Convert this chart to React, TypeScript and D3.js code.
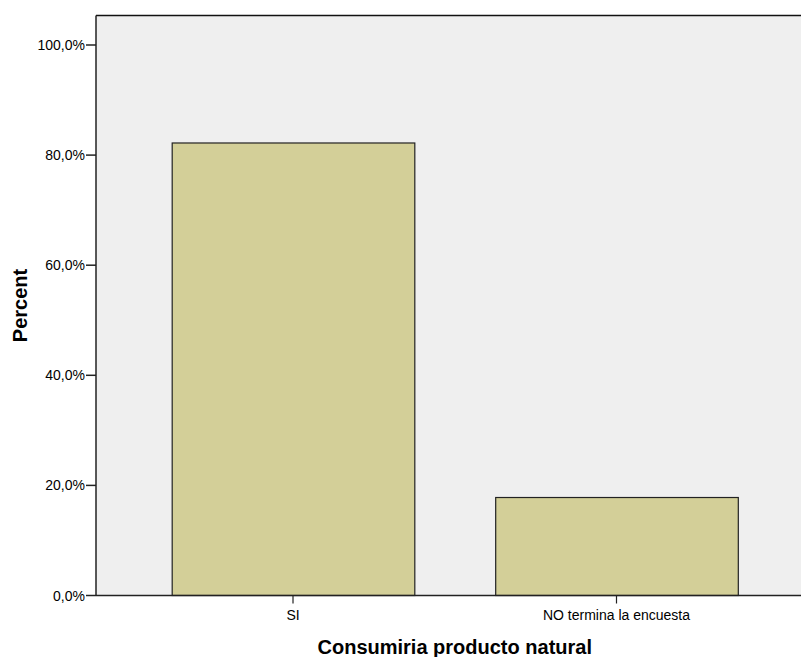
import React from "react";
import * as d3 from "d3";

const categories = ["SI", "NO termina la encuesta"];
const percents = [82.2, 17.8];
const yTicks = [0, 20, 40, 60, 80, 100];
const yTickLabels = ["0,0%", "20,0%", "40,0%", "60,0%", "80,0%", "100,0%"];

export default function App() {
  const W = 801, H = 657;
  const left = 96, top = 15.5, bottom = 595.5, right = 813.5;
  const x = d3.scaleBand<string>().domain(categories).range([left, right]).paddingInner(0.25).paddingOuter(0.234);
  const y = d3.scaleLinear().domain([0, 100]).range([bottom, 45]);
  const font = "'Liberation Sans', Arial, sans-serif";
  return (
    <div style={{ position: "absolute", left: 0, top: 0 }}>
      <svg width={W} height={H} style={{ display: "block" }}>
        <rect x={0} y={0} width={W} height={H} fill="#fff" />
        <rect x={left} y={top} width={right - left} height={bottom - top} fill="#efefef" />
        {categories.map((c, i) => (
          <rect key={c} x={x(c)! + 0.5} y={y(percents[i])} width={x.bandwidth()} height={bottom - y(percents[i])}
            fill="#d3cf98" stroke="#222" strokeWidth={1.2} />
        ))}
        <line x1={left} y1={top} x2={right} y2={top} stroke="#111" strokeWidth={1.5} />
        <line x1={left} y1={top} x2={left} y2={bottom} stroke="#222" strokeWidth={1.5} />
        <line x1={left} y1={bottom} x2={right} y2={bottom} stroke="#222" strokeWidth={1.5} />
        {yTicks.map((t, i) => (
          <g key={t}>
            <line x1={86} x2={left} y1={y(t)} y2={y(t)} stroke="#222" strokeWidth={1.5} />
            <text x={85} y={y(t)} dy="0.36em" textAnchor="end" fontFamily={font} fontSize={14} fill="#000">{yTickLabels[i]}</text>
          </g>
        ))}
        {categories.map((c) => {
          const cx = x(c)! + x.bandwidth() / 2;
          return (
            <g key={c}>
              <line x1={cx} x2={cx} y1={bottom} y2={bottom + 8} stroke="#222" strokeWidth={1.2} />
              <text x={cx} y={620} textAnchor="middle" fontFamily={font} fontSize={14} fill="#000">{c}</text>
            </g>
          );
        })}
        <text x={(left + right) / 2} y={654} textAnchor="middle" fontFamily={font} fontSize={20} fontWeight="bold" fill="#000">Consumiria producto natural</text>
        <text transform={`translate(27,${(top + bottom) / 2}) rotate(-90)`} textAnchor="middle" fontFamily={font} fontSize={20} fontWeight="bold" fill="#000">Percent</text>
      </svg>
    </div>
  );
}
